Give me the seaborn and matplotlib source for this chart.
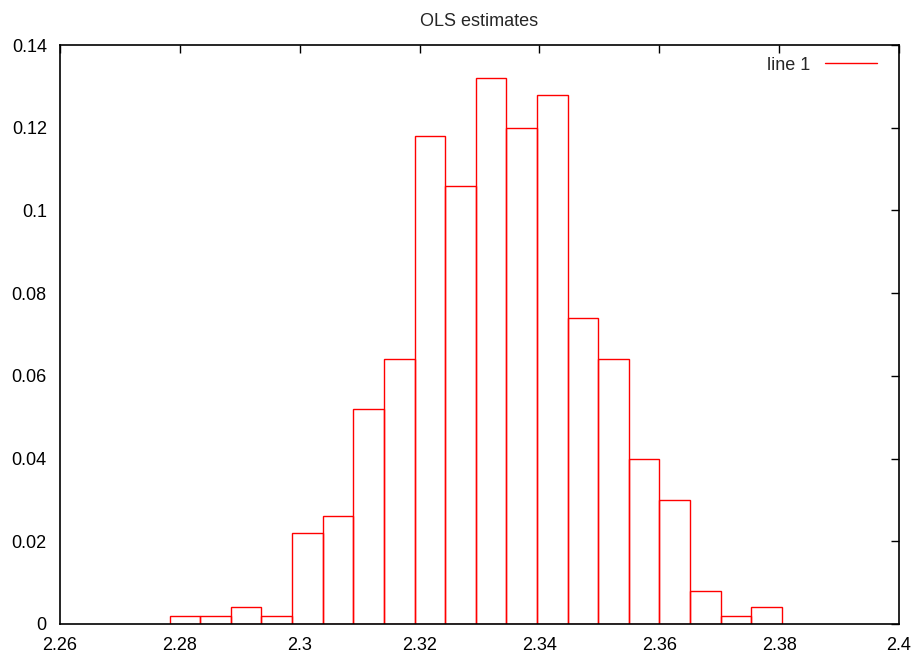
import numpy as np
import pandas as pd
import seaborn as sns
import matplotlib
matplotlib.use("Agg")
import matplotlib.pyplot as plt
from matplotlib.lines import Line2D

# Data
bin_start = 2.2783
bin_width = 0.005107
heights = [0.002, 0.002, 0.004, 0.002, 0.022, 0.026, 0.052, 0.064, 0.118, 0.106,
           0.132, 0.120, 0.128, 0.074, 0.064, 0.040, 0.030, 0.008, 0.002, 0.004]
x_ticks = [2.26, 2.28, 2.3, 2.32, 2.34, 2.36, 2.38, 2.4]
x_tick_labels = ["2.26", "2.28", "2.3", "2.32", "2.34", "2.36", "2.38", "2.4"]
y_ticks = [0, 0.02, 0.04, 0.06, 0.08, 0.1, 0.12, 0.14]
y_tick_labels = ["0", "0.02", "0.04", "0.06", "0.08", "0.1", "0.12", "0.14"]
title = "OLS estimates"
legend_label = "line 1"

n = len(heights)
edges = bin_start + bin_width * np.arange(n + 1)
centers = (edges[:-1] + edges[1:]) / 2
df = pd.DataFrame({"x": centers, "w": heights})

sns.set_style("white")
plt.rcParams['font.family'] = ['Liberation Sans', 'DejaVu Sans']

fig = plt.figure(figsize=(9.19, 6.59), dpi=100)
ax = fig.add_axes([60/919, 1 - 624/659, (899 - 60)/919, (624 - 45)/659])

sns.histplot(data=df, x="x", weights="w", bins=n,
             binrange=(float(edges[0]), float(edges[-1])), stat="count",
             fill=False, element="bars", color="#ff0000", linewidth=1.0, ax=ax)

ax.set_xlim(2.26, 2.4)
ax.set_ylim(0, 0.14)
ax.set_xticks(x_ticks)
ax.set_xticklabels(x_tick_labels)
ax.set_yticks(y_ticks)
ax.set_yticklabels(y_tick_labels)
ax.set_xlabel("")
ax.set_ylabel("")
ax.tick_params(direction="in", top=True, right=True, length=6, width=1,
               labelsize=13, colors="black")
ax.tick_params(axis="x", pad=9.5)
ax.tick_params(axis="y", pad=9.5)
for s in ax.spines.values():
    s.set_visible(True)
    s.set_color("black")
    s.set_linewidth(1.2)
ax.set_title(title, fontsize=13, pad=14)

handle = Line2D([0], [0], color="#ff0000", linewidth=1.0)
ax.legend([handle], [legend_label], loc="upper right", frameon=False,
          fontsize=13, handlelength=2.9, handletextpad=0.8, markerfirst=False,
          borderpad=0, borderaxespad=0, bbox_to_anchor=(0.974, 0.980))

fig.savefig("out.png", dpi=100)
